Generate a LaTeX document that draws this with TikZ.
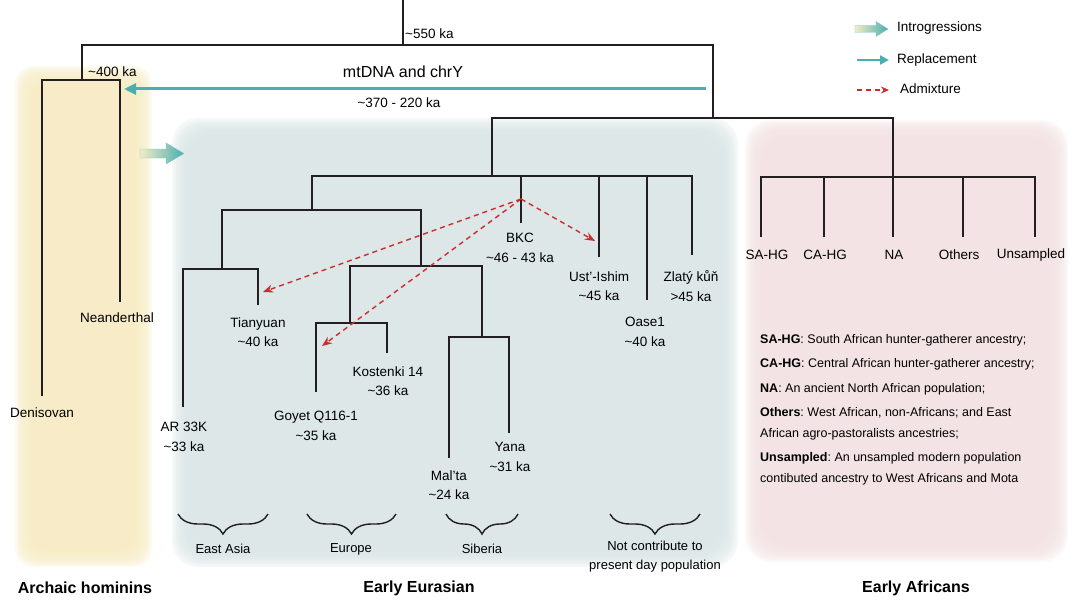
\documentclass[tikz,border=0pt]{standalone}
\usepackage{fontspec}
\setmainfont{Liberation Sans}
\usepackage{tikz}
\usetikzlibrary{arrows.meta,decorations.pathreplacing}
\definecolor{teal1}{HTML}{4BAFB1}
\definecolor{admred}{HTML}{CC2B30}
\definecolor{archbg}{HTML}{F6EBC2}
\definecolor{eurbg}{HTML}{DAE5E5}
\definecolor{afrbg}{HTML}{F2E1E2}
\definecolor{introy}{HTML}{F2EBC4}
\definecolor{branchc}{HTML}{231F20}
\newcommand{\apx}{\textasciitilde}
\frenchspacing

\begin{document}
\begin{tikzpicture}[x=1pt, y=-1pt,
  branch/.style={draw=branchc, line width=2.8pt},
  leaf/.style={font=\fontsize{13.5}{19.5}\selectfont, align=center, inner sep=0},
  note/.style={font=\fontsize{13.5}{16}\selectfont, inner sep=0},
  region/.style={font=\fontsize{13}{19}\selectfont, align=center, inner sep=0},
  title/.style={font=\fontsize{16}{19}\selectfont\bfseries, inner sep=0},
  repl/.style={draw=teal1, line width=3pt, -{Triangle[length=12pt,width=11pt]}},
  admix/.style={draw=admred, line width=1.4pt, dash pattern=on 5pt off 4pt, -{Stealth[length=10pt,width=8pt]}},
  bracebox/.style={draw=branchc, line width=1.4pt, decorate, decoration={brace, mirror, amplitude=20pt}},
  introarrow/.style={left color=introy, right color=teal1, draw=teal1!70, line width=0.4pt}]
\useasboundingbox (0,0) rectangle (1080,602);
% backgrounds
\foreach \k in {0,2,...,16}
  \fill[archbg, opacity=0.25, rounded corners=18pt] (15+\k,66+\k) rectangle (152-\k,567-\k);
\foreach \k in {0,2,...,16}
  \fill[eurbg, opacity=0.25, rounded corners=26pt] (172+\k,118+\k) rectangle (738-\k,567-\k);
\foreach \k in {0,2,...,16}
  \fill[afrbg, opacity=0.25, rounded corners=26pt] (745+\k,120+\k) rectangle (1068-\k,562-\k);

% tree joints
\coordinate (top) at (403,0);
\coordinate (jRoot) at (403,45);
\coordinate (jArch) at (82,80);
\coordinate (jMod) at (713,118);
\coordinate (jEur) at (492,176);
\coordinate (jAfr) at (893,177);
\coordinate (jWest) at (312,210);
\coordinate (jEA) at (222,269);
\coordinate (jEuS) at (421,266);
\coordinate (jEU) at (350,323);
\coordinate (jSib) at (482,337);
% branch tips
\coordinate (tDeni) at (42,396);
\coordinate (tNean) at (120,302);
\coordinate (tAR) at (183,407);
\coordinate (tTian) at (258,305);
\coordinate (tGoyet) at (316,392);
\coordinate (tKost) at (387,353);
\coordinate (tMalta) at (449,458);
\coordinate (tYana) at (509,433);
\coordinate (tBKC) at (521,223);
\coordinate (tUst) at (599,257);
\coordinate (tOase) at (647,300);
\coordinate (tZlaty) at (692,255);
\coordinate (tSA) at (761,237);
\coordinate (tCA) at (824,237);
\coordinate (tNA) at (893,237);
\coordinate (tOth) at (963,237);
\coordinate (tUns) at (1035,237);

\draw[branch] (top) -- (jRoot);
\draw[branch] (jArch) |- (jRoot) -| (jMod);
\draw[branch] (tDeni) |- (jArch) -| (tNean);
\draw[branch] (jEur) |- (jMod) -| (jAfr);
\draw[branch] (jWest) |- (jEur) -| (tZlaty);
\draw[branch] (tBKC) -- (tBKC |- jEur);
\draw[branch] (tUst) -- (tUst |- jEur);
\draw[branch] (tOase) -- (tOase |- jEur);
\draw[branch] (jEA) |- (jWest) -| (jEuS);
\draw[branch] (tAR) |- (jEA) -| (tTian);
\draw[branch] (jEU) |- (jEuS) -| (jSib);
\draw[branch] (tGoyet) |- (jEU) -| (tKost);
\draw[branch] (tMalta) |- (jSib) -| (tYana);
\draw[branch] (tSA) |- (jAfr) -| (tUns);
\draw[branch] (tCA) -- (tCA |- jAfr);
\draw[branch] (tNA) -- (tNA |- jAfr);
\draw[branch] (tOth) -- (tOth |- jAfr);

\node[note, anchor=west] (t550) at (405,34) {\apx550 ka};
\node[note, anchor=west] (t400) at (88,72) {\apx400 ka};
\node[font=\fontsize{16}{19}\selectfont, inner sep=0] (mtdna) at (403,72) {mtDNA and chrY};
\node[note] (t370) at (399,103) {\apx370 - 220 ka};

\node[leaf] (deni) at (42,413) {Denisovan};
\node[leaf] (nean) at (117,318) {Neanderthal};
\node[leaf] (ar33k) at (184,437) {AR 33K\\\apx33 ka};
\node[leaf] (tian) at (258,332) {Tianyuan\\\apx40 ka};
\node[leaf] (goyet) at (316,426) {Goyet Q116-1\\\apx35 ka};
\node[leaf] (kost) at (388,381) {Kostenki 14\\\apx36 ka};
\node[leaf] (malta) at (449,485) {Mal’ta\\\apx24 ka};
\node[leaf] (yana) at (510,457) {Yana\\\apx31 ka};
\node[leaf] (bkc) at (520,248) {BKC\\\apx46 - 43 ka};
\node[leaf] (ust) at (599,286) {Ust’-Ishim\\\apx45 ka};
\node[leaf] (zlaty) at (691,286) {Zlatý kůň\\>45 ka};
\node[leaf] (oase) at (645,332) {Oase1\\\apx40 ka};

\node[leaf] (sahg) at (767,255) {SA-HG};
\node[leaf] (cahg) at (825,255) {CA-HG};
\node[leaf] (na) at (894,255) {NA};
\node[leaf] (others) at (959,255) {Others};
\node[leaf] (unsamp) at (1031,255) {Unsampled};

\node[anchor=north west, align=left, inner sep=0, font=\fontsize{12.5}{20.5}\selectfont] (key) at (760,334)
  {\textbf{SA-HG}: South African hunter-gatherer ancestry;\\[4pt]
   \textbf{CA-HG}: Central African hunter-gatherer ancestry;\\[4pt]
   \textbf{NA}: An ancient North African population;\\[4pt]
   \textbf{Others}: West African, non-Africans; and East\\
   African agro-pastoralists ancestries;\\[4pt]
   \textbf{Unsampled}: An unsampled modern population\\
   contibuted ancestry to West Africans and Mota};

% replacement and admixture
\coordinate (replFrom) at (706,89);
\coordinate (replTo) at (124,89);
\draw[repl] (replFrom) -- (replTo);
\coordinate (admSrc) at (521,199);
\coordinate (admTian) at (263,292);
\coordinate (admGoyet) at (322,346);
\coordinate (admUst) at (595,241);
\draw[admix] (admSrc) -- (admTian);
\draw[admix] (admSrc) -- (admGoyet);
\draw[admix] (admSrc) -- (admUst);
\path[introarrow] (140,149) -- (166,149) -- (166,143) -- (184,153.5) -- (166,164) -- (166,158) -- (140,158) -- cycle;

% braces
\coordinate (bEA1) at (178,514);
\coordinate (bEA2) at (268,514);
\coordinate (bEu1) at (307,514);
\coordinate (bEu2) at (396,514);
\coordinate (bSi1) at (446,514);
\coordinate (bSi2) at (518,514);
\coordinate (bNC1) at (610,514);
\coordinate (bNC2) at (700,514);
\draw[bracebox] (bEA1) -- (bEA2);
\draw[bracebox] (bEu1) -- (bEu2);
\draw[bracebox] (bSi1) -- (bSi2);
\draw[bracebox] (bNC1) -- (bNC2);
\node[region] (eastasia) at (223,549) {East Asia};
\node[region] (europe) at (351,549) {Europe};
\node[region] (siberia) at (482,549) {Siberia};
\node[region] (nocontrib) at (655,557) {Not contribute to\\present day population};

\node[title] (archaic) at (85,588) {Archaic hominins};
\node[title] (eurasian) at (419,588) {Early Eurasian};
\node[title] (african) at (916,588) {Early Africans};

% legend
\path[introarrow] (855,25.5) -- (876,25.5) -- (876,21.5) -- (888,29) -- (876,36.5) -- (876,32.5) -- (855,32.5) -- cycle;
\node[note, anchor=west] (lgIntro) at (897,28) {Introgressions};
\coordinate (lgReplA) at (857,60);
\coordinate (lgReplB) at (889,60);
\draw[repl, line width=2.5pt, -{Triangle[length=9pt,width=9pt]}] (lgReplA) -- (lgReplB);
\node[note, anchor=west] (lgRepl) at (897,60) {Replacement};
\coordinate (lgAdmA) at (857,90);
\coordinate (lgAdmB) at (889,90);
\draw[admix, -{Stealth[length=8pt,width=7pt]}] (lgAdmA) -- (lgAdmB);
\node[note, anchor=west] (lgAdm) at (900,89) {Admixture};
\end{tikzpicture}
\end{document}
